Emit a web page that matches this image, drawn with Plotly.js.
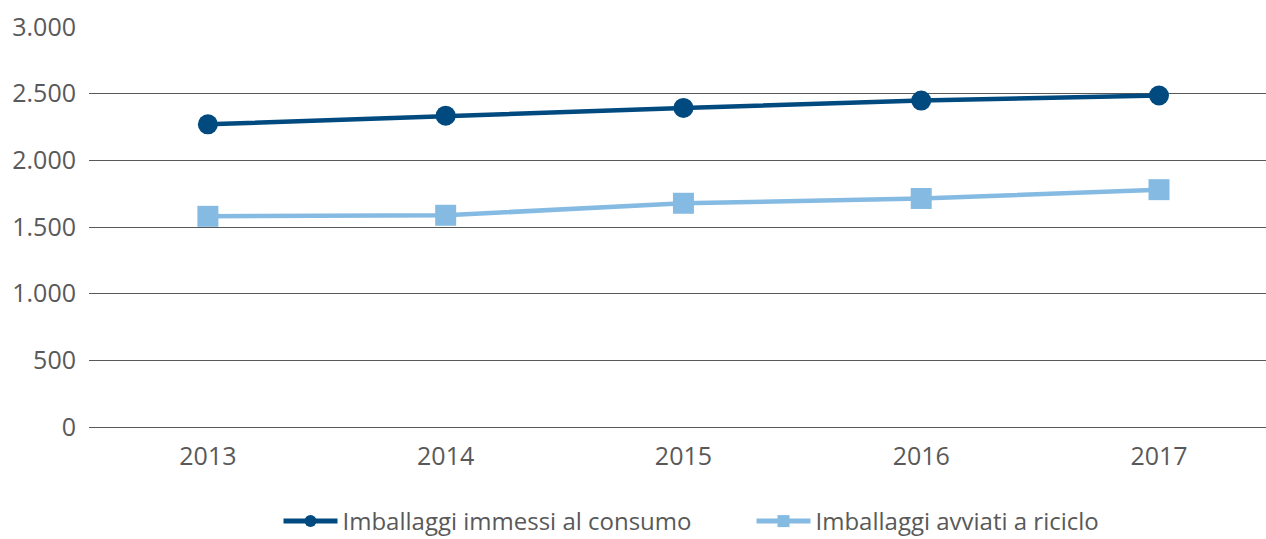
<!DOCTYPE html>
<html>
<head>
<meta charset="utf-8">
<script src="https://cdn.plot.ly/plotly-3.0.1.min.js"></script>
<style>
html,body{margin:0;padding:0;background:#fff;overflow:hidden;}
#chart{width:1266px;height:539px;}
</style>
</head>
<body>
<div id="chart"></div>
<script>
var years = ["2013", "2014", "2015", "2016", "2017"];
var immessi = [2270, 2335, 2393, 2448, 2486];
var riciclo = [1580, 1588, 1678, 1714, 1780];
var seriesNames = ["Imballaggi immessi al consumo", "Imballaggi avviati a riciclo"];
var yTicks = [0, 500, 1000, 1500, 2000, 2500, 3000];
var yTickText = ["0", "500", "1.000", "1.500", "2.000", "2.500", "3.000"];

var tickFont = {family: "Open Sans, Noto Sans, sans-serif", size: 25, color: "#595959"};
var legendFont = {family: "Open Sans, Noto Sans, sans-serif", size: 24, color: "#595959"};

var traces = [
  {
    x: years, y: immessi, name: seriesNames[0], type: "scatter", mode: "lines+markers",
    line: {color: "#004a80", width: 4.5},
    marker: {symbol: "circle", size: 20, color: "#004a80"},
    cliponaxis: false
  },
  {
    x: years, y: riciclo, name: seriesNames[1], type: "scatter", mode: "lines+markers",
    line: {color: "#85bbe2", width: 4.5},
    marker: {symbol: "square", size: 21, color: "#85bbe2"},
    cliponaxis: false
  }
];

var layout = {
  width: 1266, height: 539,
  margin: {l: 89, r: 0, t: 27, b: 112, pad: 0, autoexpand: false},
  paper_bgcolor: "#fff", plot_bgcolor: "#fff",
  font: tickFont,
  showlegend: true,
  xaxis: {
    type: "category",
    range: [-0.5, 4.45],
    showgrid: false, zeroline: false, showline: false,
    ticks: "", ticklabelstandoff: 12,
    tickfont: tickFont, fixedrange: true, automargin: false
  },
  yaxis: {
    range: [0, 3000],
    tickvals: yTicks, ticktext: yTickText,
    showgrid: true, gridcolor: "#595959", gridwidth: 1,
    zeroline: true, zerolinecolor: "#595959", zerolinewidth: 1,
    showline: false, ticks: "", ticklabelstandoff: 12,
    tickfont: tickFont, fixedrange: true, automargin: false
  },
  legend: {
    orientation: "h", x: 0.161, xanchor: "left", y: -0.18, yanchor: "top",
    font: legendFont, itemwidth: 54, itemsizing: "constant",
    entrywidth: 404, entrywidthmode: "pixels",
    traceorder: "normal", bgcolor: "rgba(0,0,0,0)"
  }
};

Plotly.newPlot("chart", traces, layout, {displayModeBar: false, staticPlot: true});
</script>
</body>
</html>
